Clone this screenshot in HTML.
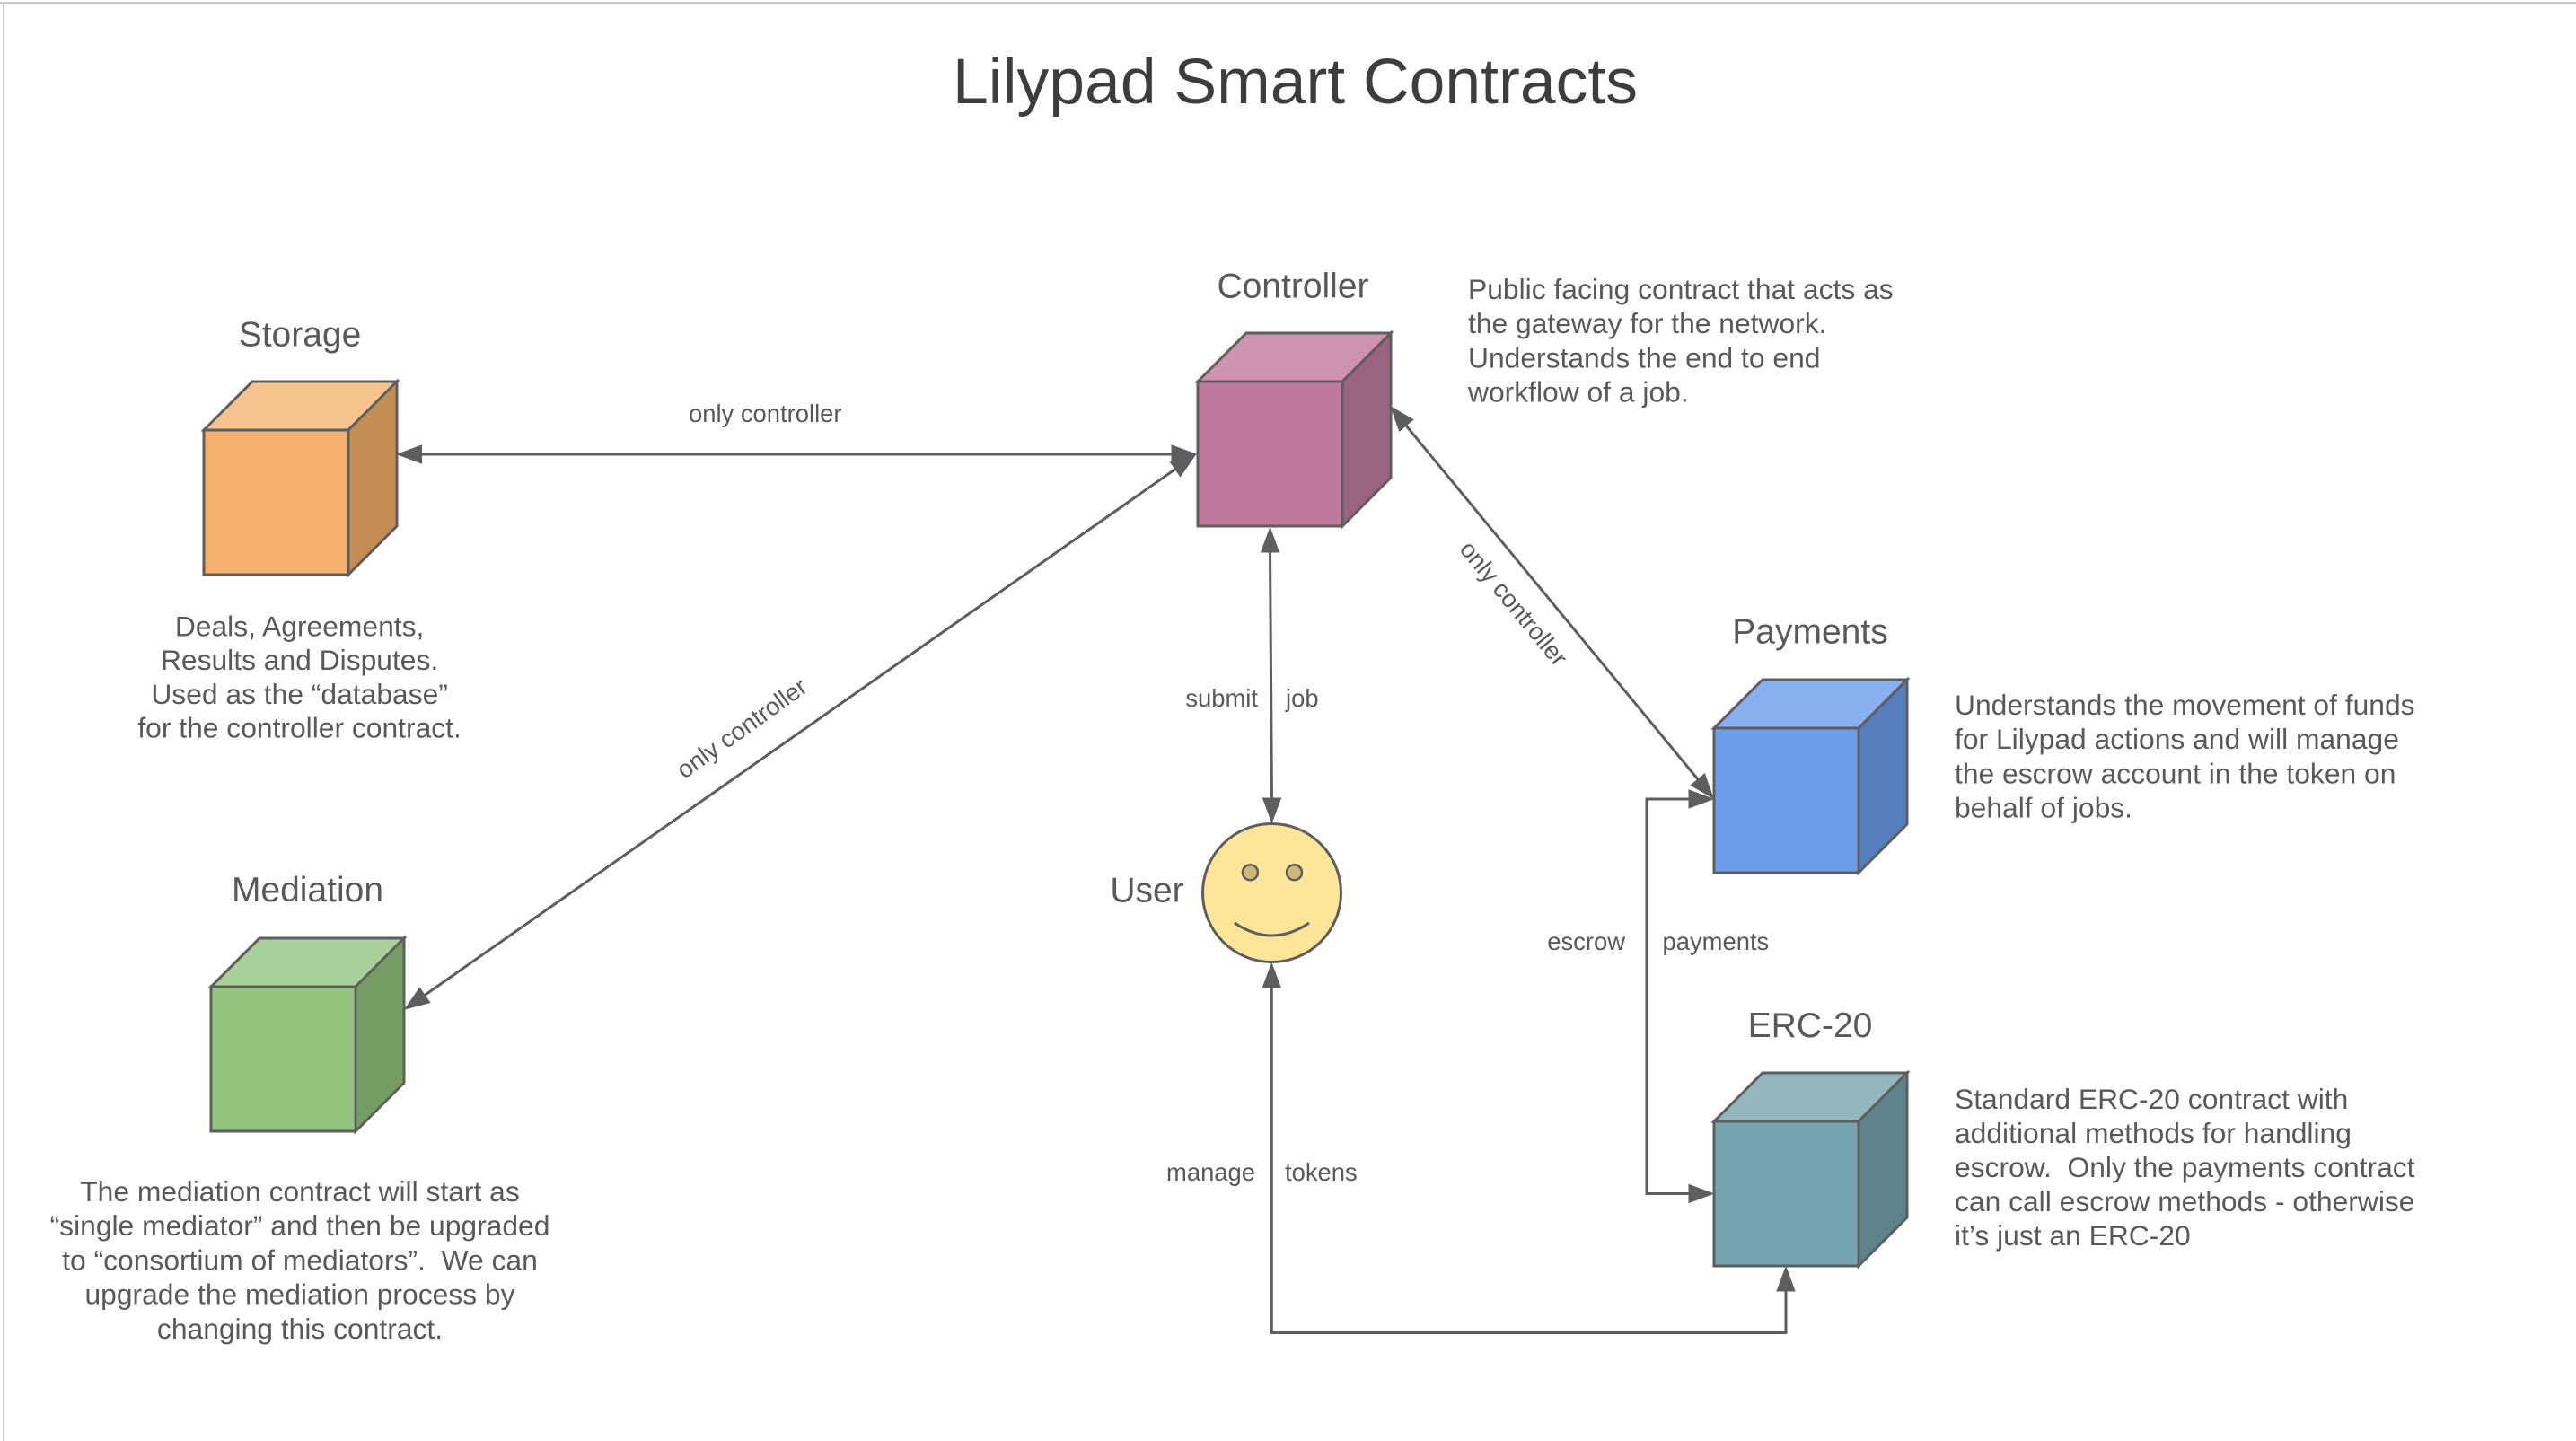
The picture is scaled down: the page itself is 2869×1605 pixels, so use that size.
<!DOCTYPE html>
<html>
<head>
<meta charset="utf-8">
<style>
  html, body { margin: 0; padding: 0; background: #ffffff; }
  body { width: 2869px; height: 1605px; overflow: hidden; }
  svg { display: block; }
  text { font-family: "Liberation Sans", Arial, sans-serif; fill: #595959; white-space: pre; }
  .title { font-size: 71.5px; fill: #3d3d3d; }
  .node { font-size: 39px; }
  .desc { font-size: 31.8px; }
  .lbl { font-size: 27.4px; }
  .edge { stroke: #5e5e5e; stroke-width: 3; fill: none; }
  .head { fill: #5e5e5e; stroke: #5e5e5e; stroke-width: 1; stroke-linejoin: miter; }
  .cube { stroke: #5e5e5e; stroke-width: 3; stroke-linejoin: miter; }
</style>
</head>
<body>
<svg width="2869" height="1605" viewBox="0 0 2869 1605" xmlns="http://www.w3.org/2000/svg">
  <rect x="0" y="0" width="2869" height="1605" fill="#ffffff"/>
  <rect x="0" y="2" width="2869" height="2.5" fill="#c8cbcc"/>
  <rect x="3" y="2" width="2" height="1603" fill="#c8cbcc"/>

  <text class="title" x="1442.5" y="115" text-anchor="middle">Lilypad Smart Contracts</text>

  <!-- Storage <-> Controller -->
  <line class="edge" x1="469" y1="506" x2="1306" y2="506"/>
  <polygon class="head" points="442.5,506 469.5,496 469.5,516"/>
  <polygon class="head" points="1332,506 1305,496 1305,516"/>
  <text class="lbl" x="767" y="470">only controller</text>

  <!-- Mediation <-> Controller -->
  <line class="edge" x1="473" y1="1108.5" x2="1309" y2="522.5"/>
  <polygon class="head" points="1331,507 1314.6,530.7 1303.2,514.3"/>
  <polygon class="head" points="451,1124 478.8,1116.7 467.4,1100.3"/>
  <text class="lbl" x="0" y="0" text-anchor="middle" dominant-baseline="central" transform="translate(826,811) rotate(-35.5)">only controller</text>

  <!-- Controller <-> Payments -->
  <line class="edge" x1="1566" y1="474" x2="1891" y2="868"/>
  <polygon class="head" points="1908,889 1883.1,874.6 1898.5,861.8"/>
  <polygon class="head" points="1549,453 1558.5,480.2 1573.9,467.4"/>
  <text class="lbl" x="0" y="0" text-anchor="middle" dominant-baseline="central" transform="translate(1686,672) rotate(50.5)">only controller</text>

  <!-- Controller <-> User -->
  <line class="edge" x1="1414.5" y1="614" x2="1416.5" y2="890"/>
  <polygon class="head" points="1414.5,588 1404.5,615 1424.5,615"/>
  <polygon class="head" points="1416.5,916 1406.5,889 1426.5,889"/>
  <text class="lbl" x="1401" y="787" text-anchor="end">submit</text>
  <text class="lbl" x="1432" y="787">job</text>

  <!-- User <-> ERC-20 -->
  <polyline class="edge" points="1416.3,1099 1416.3,1484.5 1989,1484.5 1989,1437"/>
  <polygon class="head" points="1416.3,1073 1406.3,1100 1426.3,1100"/>
  <polygon class="head" points="1989,1411 1979,1438 1999,1438"/>
  <text class="lbl" x="1398" y="1315" text-anchor="end">manage</text>
  <text class="lbl" x="1431" y="1315">tokens</text>

  <!-- Payments <-> ERC-20 -->
  <polyline class="edge" points="1882,890 1834,890 1834,1329.5 1882,1329.5"/>
  <polygon class="head" points="1908,890 1881,880 1881,900"/>
  <polygon class="head" points="1908,1329.5 1881,1319.5 1881,1339.5"/>
  <text class="lbl" x="1810" y="1058" text-anchor="end">escrow</text>
  <text class="lbl" x="1851.5" y="1058">payments</text>

  <!-- Storage -->
  <text class="node" x="334" y="385.7" text-anchor="middle">Storage</text>
  <polygon class="cube" fill="#f7c48f" points="227,479 281,425 442,425 388,479"/>
  <polygon class="cube" fill="#c48e55" points="388,479 442,425 442,586 388,640"/>
  <rect class="cube" fill="#f5b16d" x="227" y="479" width="161" height="161"/>
  <text class="desc" x="333.6" y="708.3" text-anchor="middle">Deals, Agreements,</text>
  <text class="desc" x="333.6" y="746.1" text-anchor="middle">Results and Disputes.</text>
  <text class="desc" x="333.6" y="783.9" text-anchor="middle">Used as the “database”</text>
  <text class="desc" x="333.6" y="821.7" text-anchor="middle">for the controller contract.</text>

  <!-- Controller -->
  <text class="node" x="1440" y="331.7" text-anchor="middle">Controller</text>
  <polygon class="cube" fill="#cd93b1" points="1334,425 1388,371 1549,371 1495,425"/>
  <polygon class="cube" fill="#9a6380" points="1495,425 1549,371 1549,532 1495,586"/>
  <rect class="cube" fill="#c0799e" x="1334" y="425" width="161" height="161"/>
  <text class="desc" x="1635" y="333">Public facing contract that acts as</text>
  <text class="desc" x="1635" y="371.2">the gateway for the network.</text>
  <text class="desc" x="1635" y="409.4">Understands the end to end</text>
  <text class="desc" x="1635" y="447.6">workflow of a job.</text>

  <!-- Mediation -->
  <text class="node" x="342.5" y="1004.2" text-anchor="middle">Mediation</text>
  <polygon class="cube" fill="#a9d099" points="235,1099 289,1045 450,1045 396,1099"/>
  <polygon class="cube" fill="#769e64" points="396,1099 450,1045 450,1206 396,1260"/>
  <rect class="cube" fill="#93c47d" x="235" y="1099" width="161" height="161"/>
  <text class="desc" x="334" y="1337.8" text-anchor="middle">The mediation contract will start as</text>
  <text class="desc" x="334" y="1376.1" text-anchor="middle">“single mediator” and then be upgraded</text>
  <text class="desc" x="334" y="1414.4" text-anchor="middle">to “consortium of mediators”.  We can</text>
  <text class="desc" x="334" y="1452.7" text-anchor="middle">upgrade the mediation process by</text>
  <text class="desc" x="334" y="1491" text-anchor="middle">changing this contract.</text>

  <!-- User -->
  <text class="node" x="1277.5" y="1004.3" text-anchor="middle">User</text>
  <circle cx="1416.5" cy="994.5" r="77" fill="#ffe599" stroke="#5e5e5e" stroke-width="3"/>
  <circle cx="1392.4" cy="971.7" r="8.5" fill="#cfb87a" stroke="#5e5e5e" stroke-width="2.5"/>
  <circle cx="1441.5" cy="971.7" r="8.5" fill="#cfb87a" stroke="#5e5e5e" stroke-width="2.5"/>
  <path d="M1375 1028 Q1416.5 1056 1458 1028" fill="none" stroke="#5e5e5e" stroke-width="3"/>

  <!-- Payments -->
  <text class="node" x="2016" y="716.7" text-anchor="middle">Payments</text>
  <polygon class="cube" fill="#8aaff0" points="1909,811 1963,757 2124,757 2070,811"/>
  <polygon class="cube" fill="#577ebc" points="2070,811 2124,757 2124,918 2070,972"/>
  <rect class="cube" fill="#6d9eeb" x="1909" y="811" width="161" height="161"/>
  <text class="desc" x="2177" y="796">Understands the movement of funds</text>
  <text class="desc" x="2177" y="834.2">for Lilypad actions and will manage</text>
  <text class="desc" x="2177" y="872.4">the escrow account in the token on</text>
  <text class="desc" x="2177" y="910.6">behalf of jobs.</text>

  <!-- ERC-20 -->
  <text class="node" x="2016" y="1155" text-anchor="middle">ERC-20</text>
  <polygon class="cube" fill="#92b7bf" points="1909,1249 1963,1195 2124,1195 2070,1249"/>
  <polygon class="cube" fill="#5e838c" points="2070,1249 2124,1195 2124,1356 2070,1410"/>
  <rect class="cube" fill="#76a5af" x="1909" y="1249" width="161" height="161"/>
  <text class="desc" x="2177" y="1235">Standard ERC-20 contract with</text>
  <text class="desc" x="2177" y="1273">additional methods for handling</text>
  <text class="desc" x="2177" y="1311">escrow.  Only the payments contract</text>
  <text class="desc" x="2177" y="1349">can call escrow methods - otherwise</text>
  <text class="desc" x="2177" y="1387">it’s just an ERC-20</text>
</svg>
</body>
</html>
